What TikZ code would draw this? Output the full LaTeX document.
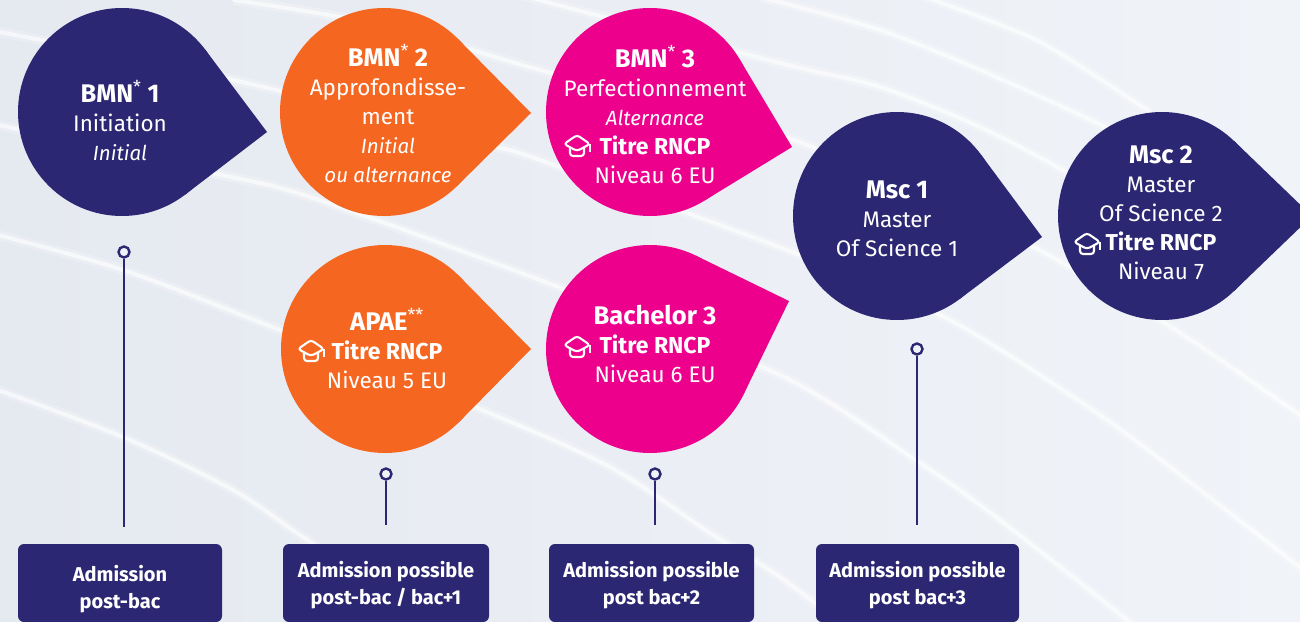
\documentclass[tikz,border=0pt]{standalone}
\usepackage{fontspec}
\setmainfont{Fira Sans}
\usetikzlibrary{calc}

\definecolor{navy}{RGB}{44,39,114}
\definecolor{tangerine}{RGB}{245,102,33}
\definecolor{fuchsia}{RGB}{236,0,140}
\definecolor{mist}{RGB}{229,233,240}
\definecolor{mistlight}{RGB}{240,243,248}

\tikzset{
  x=1pt, y=-1pt,
  disc/.style={circle, minimum size=208pt, inner sep=0pt, outer sep=0pt},
  droptext/.style={text=white, align=center, font=\fontsize{22.5}{29}\selectfont},
  gate/.style={rectangle, rounded corners=6pt, fill=navy, text=white, minimum width=204pt,
    minimum height=78pt, inner sep=0pt, align=center, font=\fontsize{20}{27}\selectfont\bfseries},
  ring/.style={circle, draw=navy, line width=2.4pt, fill=mist!60!white, minimum size=11pt, inner sep=0pt},
  stem/.style={navy, line width=2.8pt},
  swoosh/.style={white, line width=4pt, opacity=0.6, line cap=round,
    preaction={draw=white, line width=10pt, opacity=0.22}},
  gradcap/.pic={
    \draw[white, line width=2.1pt, line join=round, rounded corners=3pt]
      (-13,-1) -- (0,-10) -- (13,-1) -- (0,6) -- cycle;
    \draw[white, line width=2.1pt, rounded corners=3pt]
      (-7,3) -- (-7,11) -- (7,11) -- (7,3);
    \draw[white, line width=2.1pt] (13,-1) -- (13,7);
  }
}

% one teardrop: name, colour, centre, tip
\newcommand{\teardrop}[4]{
  \node[disc, fill=#2] (#1) at (#3) {};
  \coordinate (#1tip) at (#4);
  \fill[#2] (tangent cs:node=#1,point={(#1tip)},solution=1) -- (#1tip)
    -- (tangent cs:node=#1,point={(#1tip)},solution=2) -- cycle;
}
\newcommand{\dropname}[1]{{\fontsize{25.5}{29}\selectfont\bfseries #1}}
\newcommand{\dropmode}[1]{{\fontsize{20.5}{29}\selectfont\itshape #1}}
\newcommand{\droptitle}[1]{{\fontsize{23}{29}\selectfont\bfseries #1}}
\newcommand{\dropstar}[1]{{\mdseries\textsuperscript{#1}}}

\begin{document}
\begin{tikzpicture}
  \useasboundingbox (0,0) rectangle (1300,621);
  \clip (0,0) rectangle (1300,621);
  \shade[left color=mist, right color=mistlight] (0,0) rectangle (1300,621);

  % background lines
  \draw[swoosh] plot[smooth] coordinates {(-10,30) (234,80) (480,143) (540,160) (800,255) (950,320) (1100,415) (1200,490) (1310,575)};
  \draw[swoosh] plot[smooth] coordinates {(-10,123) (213,173) (310,197) (540,280) (780,375) (920,463) (1000,520) (1140,630)};
  \draw[swoosh] plot[smooth] coordinates {(-10,233) (123,270) (280,330) (475,407) (610,467) (710,533) (780,577) (850,630)};
  \draw[swoosh] plot[smooth] coordinates {(-10,387) (123,437) (233,490) (300,535) (440,630)};
  \draw[swoosh] plot[smooth] coordinates {(234,0) (345,18) (448,43) (540,70) (780,135) (1000,230) (1160,320) (1310,422)};
  \draw[swoosh] plot[smooth] coordinates {(520,-5) (780,63) (880,87) (980,127) (1063,170) (1120,205)};
  \draw[swoosh] plot[smooth] coordinates {(760,-3) (880,30) (980,70) (1097,123) (1130,145)};
  \draw[swoosh] plot[smooth] coordinates {(920,-5) (1030,37) (1097,77) (1150,112)};

  % teardrops
  \teardrop{bmnone}{navy}{122,112}{267,132}
  \teardrop{bmntwo}{tangerine}{384,112}{531,113}
  \teardrop{bmnthree}{fuchsia}{650,112}{792,147}
  \teardrop{apae}{tangerine}{385,349}{531,349}
  \teardrop{bachelor}{fuchsia}{650,349}{789,301}
  \teardrop{mscone}{navy}{897,216}{1042,237}
  \teardrop{msctwo}{navy}{1162,216}{1312,216}

  % texts
  \node[droptext] (bmnonetext) at (120,121) {\dropname{BMN\dropstar{*} 1}\\Initiation\\\dropmode{Initial}};
  \node[droptext] (bmntwotext) at (388,114) {\dropname{BMN\dropstar{*} 2}\\Approfondisse-\\ment\\\dropmode{Initial}\\\dropmode{ou alternance}};
  \node[droptext] (bmnthreetext) at (655,115) {\dropname{BMN\dropstar{*} 3}\\Perfectionnement\\\dropmode{Alternance}\\\droptitle{Titre RNCP}\\Niveau 6 EU};
  \node[droptext] (apaetext) at (387,349) {\dropname{APAE\dropstar{**}}\\\droptitle{Titre RNCP}\\Niveau 5 EU};
  \node[droptext] (bachelortext) at (655,344) {\dropname{Bachelor 3}\\\droptitle{Titre RNCP}\\Niveau 6 EU};
  \node[droptext] (msconetext) at (897,219) {\dropname{Msc 1}\\Master\\Of Science 1};
  \node[droptext] (msctwotext) at (1161,213) {\dropname{Msc 2}\\Master\\Of Science 2\\\droptitle{Titre RNCP}\\Niveau 7};

  % caps
  \pic at (577,145) {gradcap};
  \pic at (311,350) {gradcap};
  \pic at (577,346) {gradcap};
  \pic at (1087,243) {gradcap};

  % admission boxes
  \node[gate] (gateone) at (120,583) {\rule{0pt}{28pt}Admission\\post-bac};
  \node[gate, minimum width=206pt] (gatetwo) at (386,583) {\rule{0pt}{20pt}Admission possible\\post-bac / bac+1};
  \node[gate, minimum width=205pt] (gatethree) at (651.5,583) {\rule{0pt}{20pt}Admission possible\\post bac+2};
  \node[gate, minimum width=203pt] (gatefour) at (917.5,583) {\rule{0pt}{20pt}Admission possible\\post bac+3};

  % stems
  \node[ring] (ringone) at (124,252) {};
  \node[ring] (ringtwo) at (386,474) {};
  \node[ring] (ringthree) at (655,474) {};
  \node[ring] (ringfour) at (917,349) {};
  \coordinate (endone) at (124,527);
  \coordinate (endtwo) at (386,525);
  \coordinate (endthree) at (655,525);
  \coordinate (endfour) at (917,525);
  \draw[stem] (ringone) -- (endone);
  \draw[stem] (ringtwo) -- (endtwo);
  \draw[stem] (ringthree) -- (endthree);
  \draw[stem] (ringfour) -- (endfour);
\end{tikzpicture}
\end{document}
